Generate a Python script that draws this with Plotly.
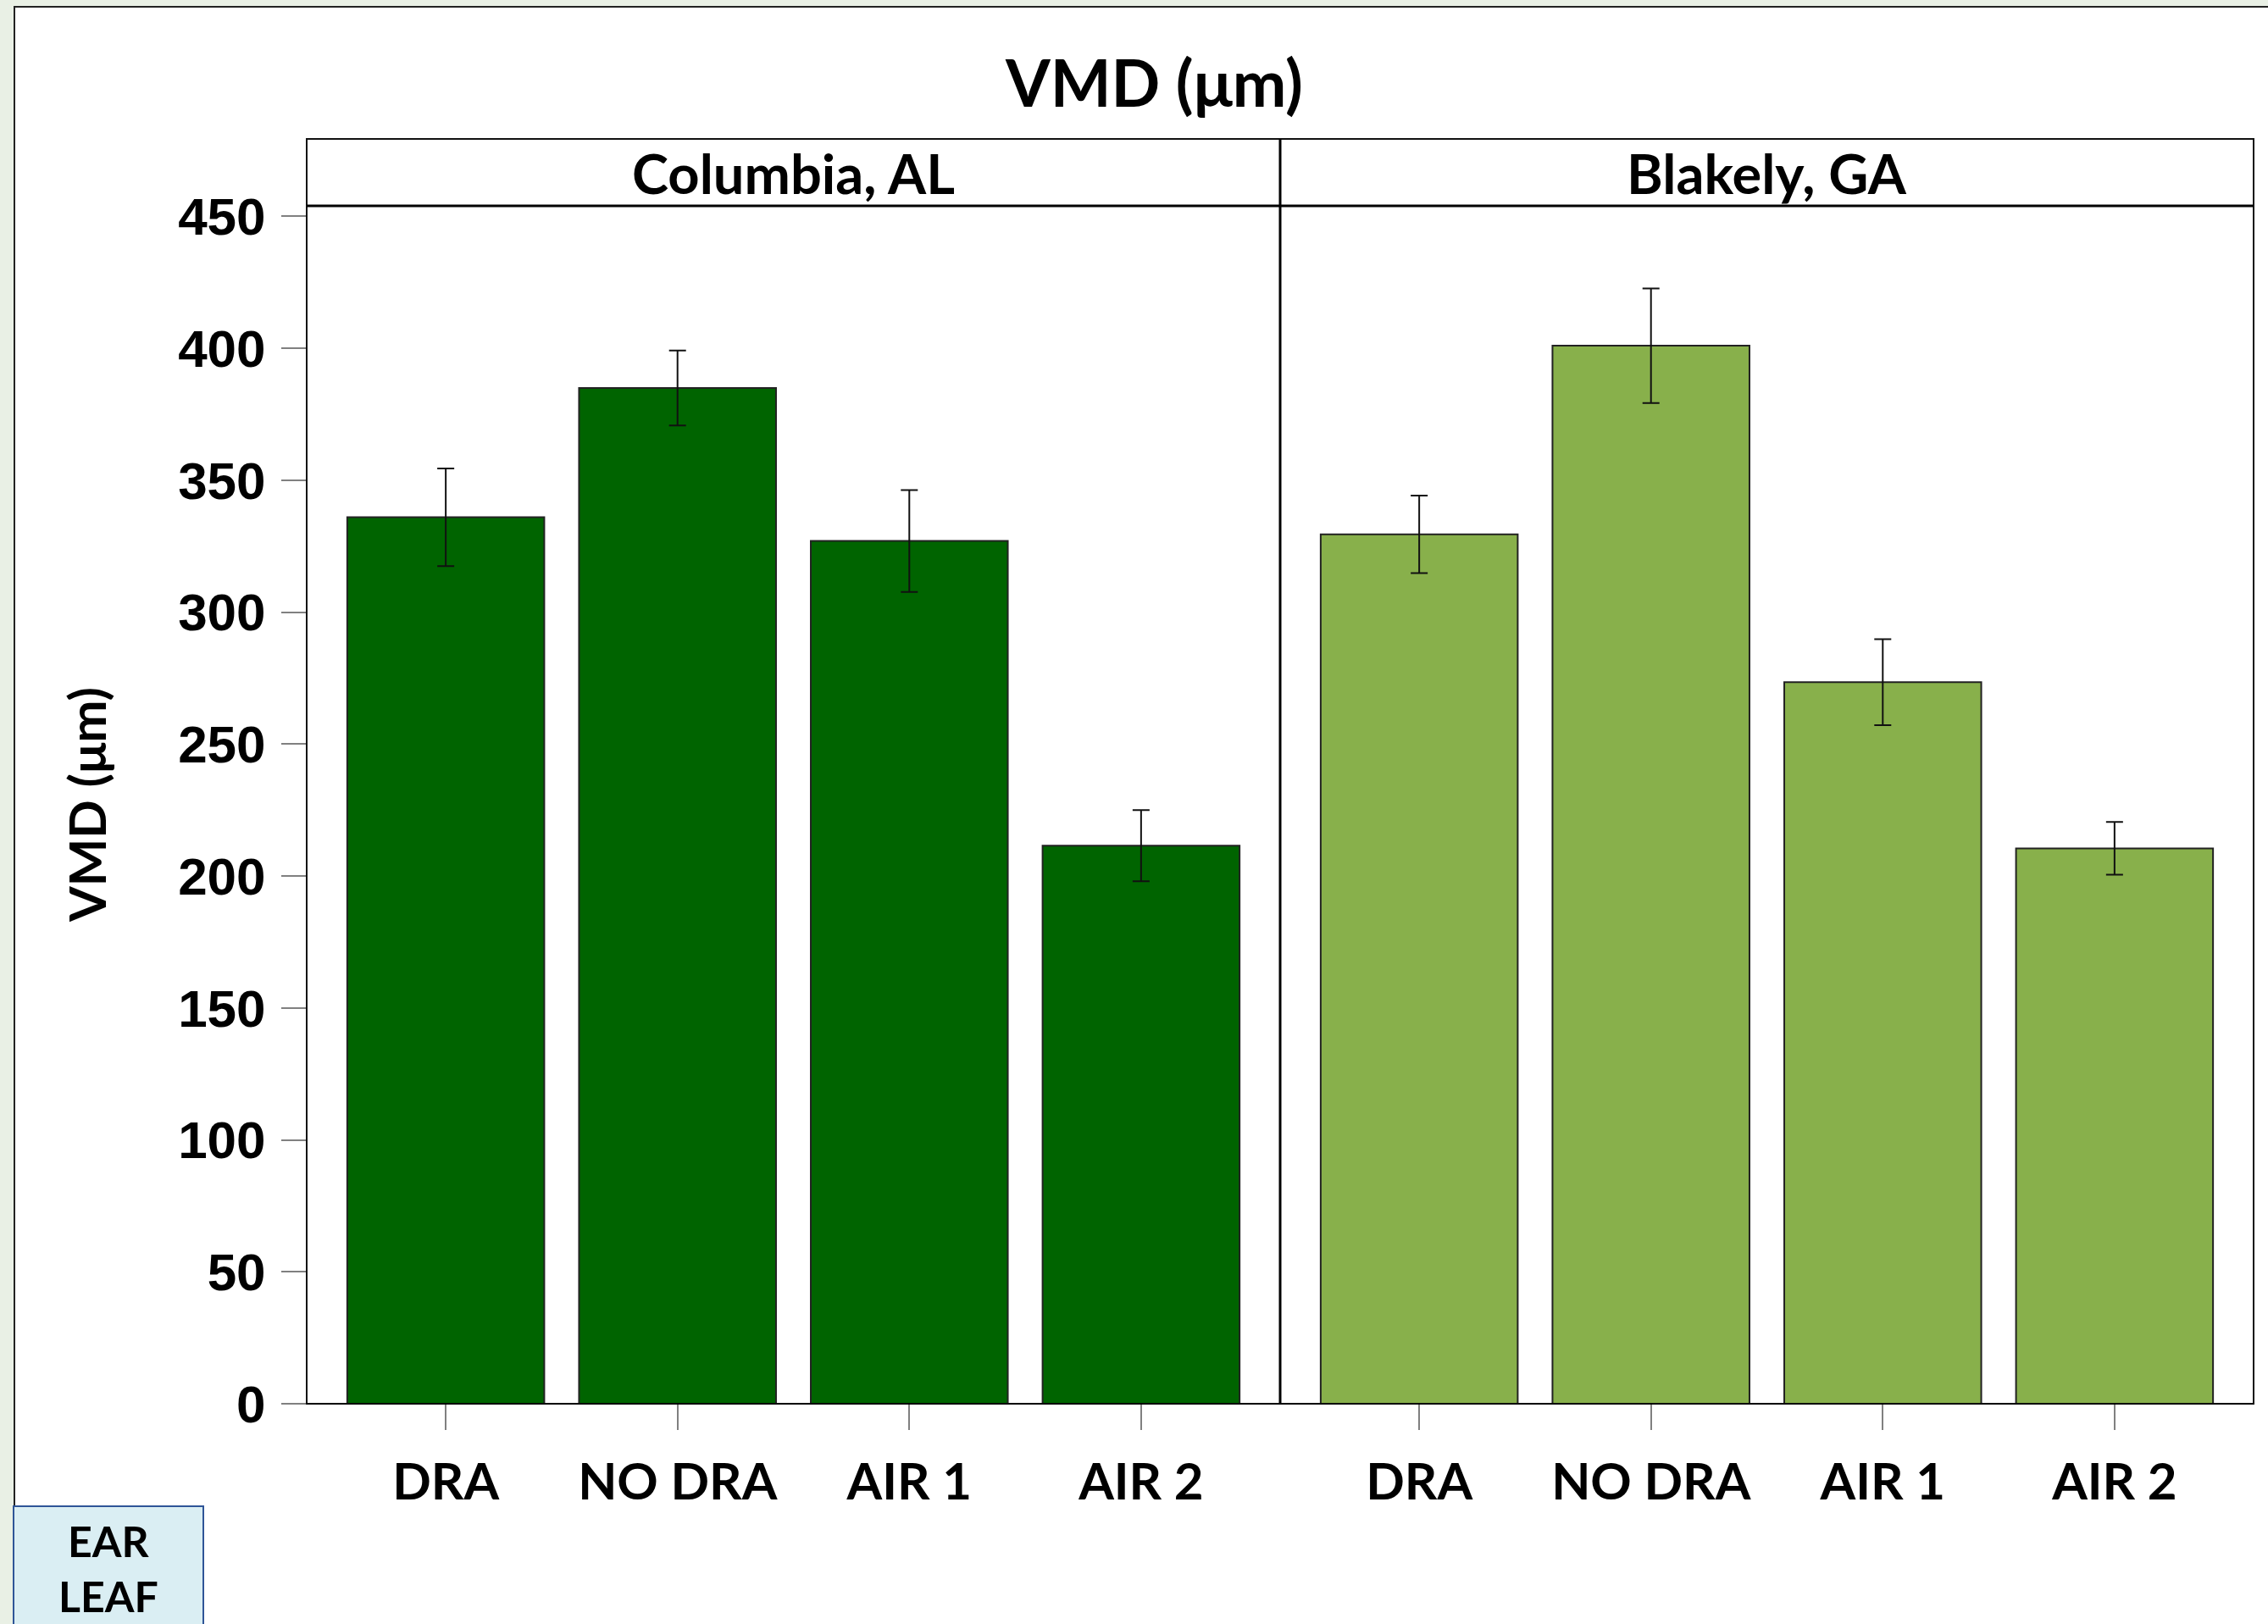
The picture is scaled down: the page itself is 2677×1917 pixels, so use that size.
import plotly.graph_objects as go

# ---------------- data ----------------
categories = ["DRA", "NO DRA", "AIR 1", "AIR 2"]
sites = ["Columbia, AL", "Blakely, GA"]
columbia_vmd = [336, 385, 327, 211.5]
columbia_err = [18.5, 14.2, 19.3, 13.5]
blakely_vmd = [329.5, 401, 273.5, 210.5]
blakely_err = [14.7, 21.7, 16.3, 10]
y_ticks = [0, 50, 100, 150, 200, 250, 300, 350, 400, 450]
title_text = "VMD (μm)"
y_title = "VMD (μm)"
box_text = "EAR<br>LEAF"

# ---------------- layout geometry (pixels) ----------------
W, H = 2677, 1917
def px(x):
    return x / W
def py(y):
    return 1 - y / H

left, mid, right = 362, 1511, 2660
strip_top, strip_bot, base = 164, 243, 1657

dark_green = "#006400"
light_green = "#88B04B"
cat_font = "Lato, 'Open Sans', sans-serif"
num_font = "'Liberation Sans', Arial, sans-serif"

fig = go.Figure()
for site, vals, errs, color, xa in [
    (sites[0], columbia_vmd, columbia_err, dark_green, "x"),
    (sites[1], blakely_vmd, blakely_err, light_green, "x2"),
]:
    fig.add_trace(go.Bar(
        x=categories, y=vals, name=site, xaxis=xa, yaxis="y",
        marker=dict(color=color, line=dict(color="#222222", width=2)),
        error_y=dict(type="data", array=errs, visible=True, color="#111111",
                     thickness=2, width=10),
        showlegend=False,
    ))

axis_common = dict(
    type="category", range=[-0.6, 3.6], showgrid=False, zeroline=False,
    showline=False, ticks="outside", ticklen=30, tickwidth=2, tickcolor="#808080",
    tickfont=dict(family=cat_font, size=60, color="black", weight="bold"),
    ticklabelstandoff=10, fixedrange=True, automargin=False,
)
fig.update_layout(
    width=W, height=H, autosize=False,
    margin=dict(l=0, r=0, t=0, b=0, pad=0, autoexpand=False),
    paper_bgcolor="#E9F0E5", plot_bgcolor="white",
    bargap=0.15,
    xaxis=dict(domain=[px(left), px(mid)], anchor="y", **axis_common),
    xaxis2=dict(domain=[px(mid), px(right)], anchor="y", **axis_common),
    yaxis=dict(
        domain=[py(base), py(strip_bot)], range=[0, 454],
        tickmode="array", tickvals=y_ticks, ticktext=[str(t) for t in y_ticks],
        showgrid=False, zeroline=False, showline=False,
        ticks="outside", ticklen=29, tickwidth=2, tickcolor="#808080",
        tickfont=dict(family=num_font, size=62, color="black", weight="bold"),
        ticklabelstandoff=6, fixedrange=True, automargin=False,
    ),
)

shapes = [
    # white panel
    dict(type="rect", xref="paper", yref="paper", x0=px(17), x1=px(W + 5),
         y0=py(H + 5), y1=py(8), fillcolor="white",
         line=dict(color="#222222", width=2), layer="below"),
    # plot frame
    dict(type="rect", xref="paper", yref="paper", x0=px(left), x1=px(right),
         y0=py(base), y1=py(strip_top), line=dict(color="#111111", width=2)),
    # strip bottom line
    dict(type="line", xref="paper", yref="paper", x0=px(left), x1=px(right),
         y0=py(strip_bot), y1=py(strip_bot), line=dict(color="#000000", width=3)),
    # panel divider
    dict(type="line", xref="paper", yref="paper", x0=px(mid), x1=px(mid),
         y0=py(base), y1=py(strip_top), line=dict(color="#000000", width=3)),
    # baseline
    dict(type="line", xref="paper", yref="paper", x0=px(left), x1=px(right),
         y0=py(base), y1=py(base), line=dict(color="#000000", width=2)),
    # EAR LEAF box
    dict(type="rect", xref="paper", yref="paper", x0=px(16), x1=px(240),
         y0=py(H + 5), y1=py(1778), fillcolor="#DAEEF3",
         line=dict(color="#2F5597", width=2)),
]
fig.update_layout(shapes=shapes)

annotations = [
    dict(text=title_text, xref="paper", yref="paper", x=px(1362), y=py(97),
         xanchor="center", yanchor="middle", showarrow=False,
         font=dict(family=cat_font, size=76, color="black", weight="bold")),
    dict(text=sites[0], xref="paper", yref="paper", x=px((left + mid) / 2),
         y=py((strip_top + strip_bot) / 2), xanchor="center", yanchor="middle",
         showarrow=False,
         font=dict(family=cat_font, size=65, color="black", weight="bold")),
    dict(text=sites[1], xref="paper", yref="paper", x=px((mid + right) / 2),
         y=py((strip_top + strip_bot) / 2), xanchor="center", yanchor="middle",
         showarrow=False,
         font=dict(family=cat_font, size=65, color="black", weight="bold")),
    dict(text=y_title, xref="paper", yref="paper", x=px(102),
         y=py((strip_bot + base) / 2), xanchor="center", yanchor="middle",
         textangle=-90, showarrow=False,
         font=dict(family=cat_font, size=60, color="black", weight="bold")),
    dict(text=box_text, xref="paper", yref="paper", x=px(128), y=py(1851),
         xanchor="center", yanchor="middle", showarrow=False,
         font=dict(family=cat_font, size=50, color="black", weight="bold")),
]
fig.update_layout(annotations=annotations)

fig.write_html("out.html", config={"displayModeBar": False},
               post_script="document.body.style.margin='0px';")
